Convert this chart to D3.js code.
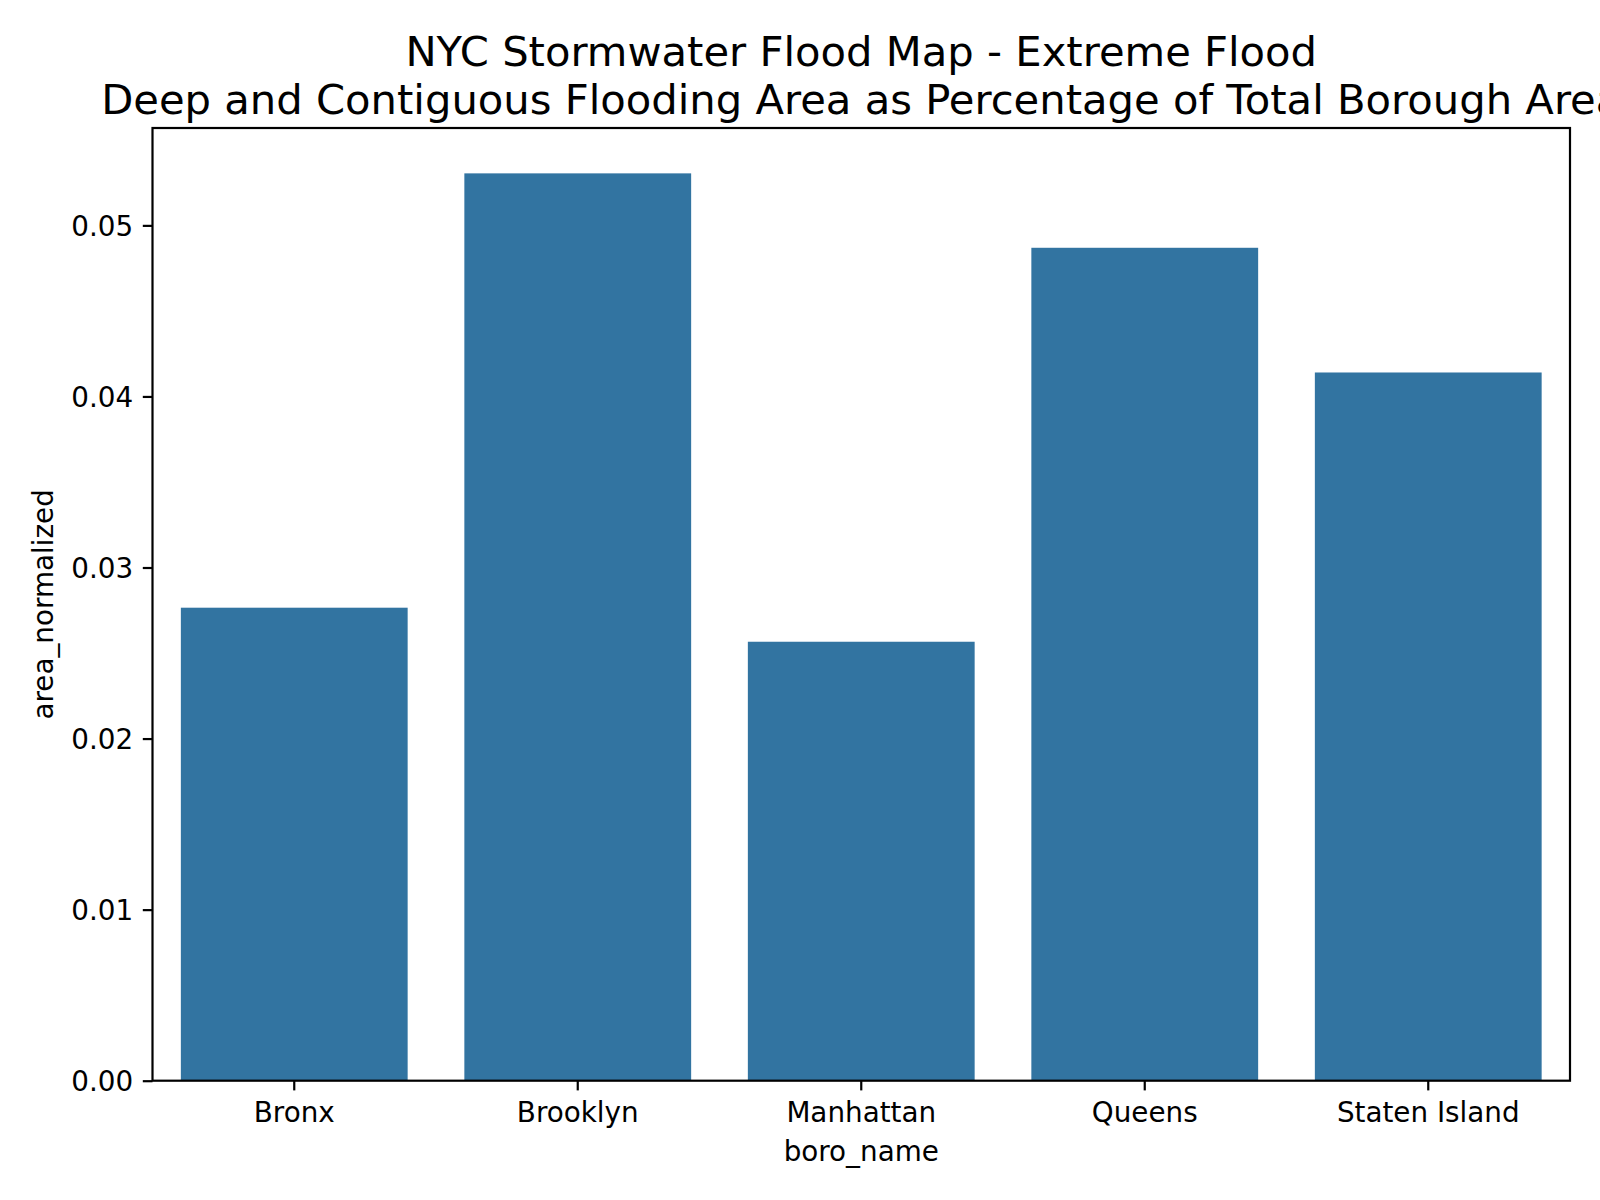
<!DOCTYPE html>
<html>
<head>
<meta charset="utf-8">
<script src="https://cdn.jsdelivr.net/npm/d3@7"></script>
<style>
  html, body { margin: 0; padding: 0; background: #fff; overflow: hidden; }
  svg { display: block; font-family: "DejaVu Sans", sans-serif; }
</style>
</head>
<body>
<svg id="chart" width="1600" height="1200"></svg>
<script>
const categories = ["Bronx", "Brooklyn", "Manhattan", "Queens", "Staten Island"];
const values = [0.02765, 0.05304, 0.02566, 0.04869, 0.0414];
const yTicks = [0.00, 0.01, 0.02, 0.03, 0.04, 0.05];
const titleLines = ["NYC Stormwater Flood Map - Extreme Flood",
  "Deep and Contiguous Flooding Area as Percentage of Total Borough Area"];
const xLabel = "boro_name";
const yLabel = "area_normalized";

(function () {
const svg = d3.select("#chart");
const mLeft = 152.5, mRight = 1570, mTop = 128, mBottom = 1080.7;
const barColor = "#3274a1";
const tickFont = 27.8;

const x = d3.scaleBand().domain(categories).range([mLeft, mRight]).paddingInner(0.2).paddingOuter(0.1);
const y = d3.scaleLinear().domain([0, d3.max(values) * 1.05]).range([mBottom, mTop]);

// bars
svg.append("g").selectAll("rect").data(categories).join("rect")
  .attr("x", d => x(d))
  .attr("width", x.bandwidth())
  .attr("y", (d, i) => y(values[i]))
  .attr("height", (d, i) => y(0) - y(values[i]))
  .attr("fill", barColor);

// x axis
const xAxis = d3.axisBottom(x).tickSize(9.7).tickPadding(9.7);
const gx = svg.append("g").attr("transform", `translate(0,${mBottom})`).call(xAxis);
gx.select(".domain").remove();
gx.selectAll(".tick line").attr("stroke", "#000").attr("stroke-width", 2.2);
gx.selectAll(".tick text").attr("font-size", tickFont).attr("font-family", "DejaVu Sans")
  .attr("fill", "#000").attr("dy", null).attr("y", 41.8);

// y axis
const yAxis = d3.axisLeft(y).tickValues(yTicks).tickFormat(d3.format(".2f")).tickSize(9.7).tickPadding(9.7);
const gy = svg.append("g").attr("transform", `translate(${mLeft},0)`).call(yAxis);
gy.select(".domain").remove();
gy.selectAll(".tick line").attr("stroke", "#000").attr("stroke-width", 2.2);
gy.selectAll(".tick text").attr("font-size", tickFont).attr("font-family", "DejaVu Sans")
  .attr("fill", "#000").attr("dy", "0.36em");

// spines
svg.append("rect")
  .attr("x", mLeft).attr("y", mTop)
  .attr("width", mRight - mLeft).attr("height", mBottom - mTop)
  .attr("fill", "none").attr("stroke", "#000").attr("stroke-width", 2.2);

// axis labels
svg.append("text")
  .attr("x", (mLeft + mRight) / 2).attr("y", 1161)
  .attr("text-anchor", "middle").attr("font-size", tickFont).attr("fill", "#000")
  .text(xLabel);

svg.append("text")
  .attr("transform", `translate(53,${(mTop + mBottom) / 2}) rotate(-90)`)
  .attr("text-anchor", "middle").attr("font-size", tickFont).attr("fill", "#000")
  .text(yLabel);

// title
const title = svg.append("text")
  .attr("text-anchor", "middle").attr("font-size", 41.7).attr("fill", "#000");
titleLines.forEach((t, i) => {
  title.append("tspan").attr("x", (mLeft + mRight) / 2).attr("y", 66 + i * 47.5).text(t);
});
})();
</script>
</body>
</html>
